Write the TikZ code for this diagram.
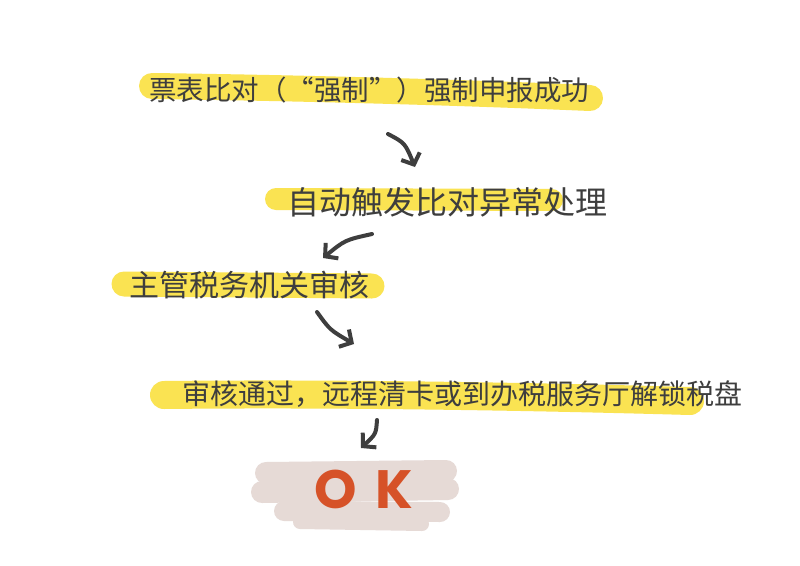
\documentclass[tikz,border=0pt]{standalone}
\usepackage{fontspec}
\newfontfamily\cjk{Noto Sans CJK SC}
\newfontfamily\okfont{Poppins}
\usepackage{xcolor}
\usetikzlibrary{arrows.meta}
\definecolor{marker}{RGB}{250,227,82}
\definecolor{ink}{RGB}{62,62,62}
\definecolor{smear}{RGB}{230,218,214}
\definecolor{okred}{RGB}{214,82,40}
\tikzset{
	hl/.style={marker, line width=#1, line cap=round},
	smudge/.style={smear, line width=#1, line cap=round},
	stage/.style={text=ink, inner sep=0pt, font={\cjk\fontsize{#1}{#1}\selectfont}},
	flow/.style={ink, line width=4pt, line cap=round, line join=round, -{Straight Barb[length=9pt,width=20pt]}}
}

\begin{document}
\begin{tikzpicture}[x=1pt,y=-1pt]
			% Canvas
			\fill[white] (0,0) rectangle (800,565);
			\useasboundingbox (0,0) rectangle (800,565);
			% Highlighter strokes
			\draw[hl=26pt] (152,86) .. controls (300,88) and (450,92) .. (590,98);
			\draw[hl=22pt] (276,199) -- (552,200);
			\draw[hl=25pt] (124,284) -- (372,286);
			\draw[hl=28pt] (164,395) .. controls (350,393) and (550,397) .. (690,401);
			% Smear under OK
			\foreach \xa/\ya/\xb/\yb/\w in {266/473/446/471/22, 262/492/448/489/22, 284/511/440/512/20, 300/522/422/524/14} {
					\draw[smudge=\w pt] (\xa,\ya) -- (\xb,\yb);
				}
			% Steps
			\node[stage=27.5] (s1) at (369,90) {票表比对（“强制”）强制申报成功};
			\node[stage=32] (s2) at (447,202) {自动触发比对异常处理};
			\node[stage=30] (s3) at (249,285) {主管税务机关审核};
			\node[stage=28] (s4) at (462,394) {审核通过，远程清卡或到办税服务厅解锁税盘};
			\node[text=okred, inner sep=0pt, font={\okfont\bfseries\fontsize{54}{54}\selectfont}] (ok) at (364,489) {O\,\,K};
			% Arrow ends
			\coordinate (a1from) at (388,134);
			\coordinate (a1to) at (415,167);
			\coordinate (a2from) at (372,234);
			\coordinate (a2to) at (323,258);
			\coordinate (a3from) at (317,312);
			\coordinate (a3to) at (354,344);
			\coordinate (a4from) at (377,420);
			\coordinate (a4to) at (361,448);
			% Arrows
			\draw[flow] (a1from) .. controls (405,143) .. (a1to);
			\draw[flow] (a2from) .. controls (345,240) .. (a2to);
			\draw[flow] (a3from) .. controls (330,330) .. (a3to);
			\draw[flow] (a4from) .. controls (376,434) .. (a4to);
		\end{tikzpicture}
\end{document}
